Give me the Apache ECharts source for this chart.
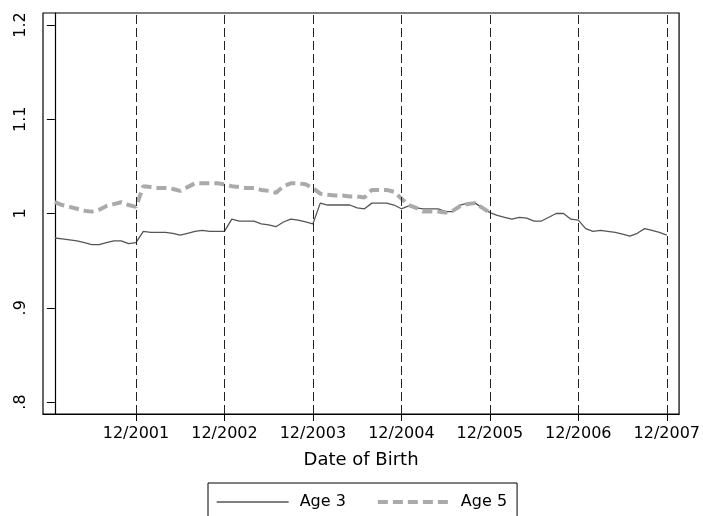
<!DOCTYPE html>
<html>
<head>
<meta charset="utf-8">
<script src="https://cdn.jsdelivr.net/npm/echarts@6/dist/echarts.min.js"></script>
<style>html,body{margin:0;padding:0;background:#fff}#c{width:703px;height:516px}</style>
</head>
<body>
<div id="c"></div>
<script>
// Month index 0 = 01/2001 ... 83 = 12/2007
const age3 = [
  0.974, 0.973, 0.972, 0.971, 0.969, 0.967, 0.967, 0.969, 0.971, 0.971, 0.968, 0.969,
  0.981, 0.980, 0.980, 0.980, 0.979, 0.977, 0.979, 0.981, 0.982, 0.981, 0.981, 0.981,
  0.994, 0.992, 0.992, 0.992, 0.989, 0.988, 0.986, 0.991, 0.994, 0.993, 0.991, 0.989,
  1.011, 1.009, 1.009, 1.009, 1.009, 1.006, 1.005, 1.011, 1.011, 1.011, 1.009, 1.005,
  1.008, 1.006, 1.005, 1.005, 1.005, 1.002, 1.002, 1.009, 1.011, 1.011, 1.006, 1.001,
  0.998, 0.996, 0.994, 0.996, 0.995, 0.992, 0.992, 0.996, 1.000, 1.000, 0.994, 0.993,
  0.984, 0.981, 0.982, 0.981, 0.980, 0.978, 0.976, 0.979, 0.984, 0.982, 0.980, 0.977
];
const age5 = [
  1.012, 1.009, 1.007, 1.005, 1.003, 1.002, 1.004, 1.008, 1.010, 1.012, 1.009, 1.007,
  1.029, 1.028, 1.027, 1.027, 1.026, 1.024, 1.028, 1.032, 1.032, 1.032, 1.032, 1.031,
  1.029, 1.028, 1.027, 1.027, 1.025, 1.024, 1.022, 1.029, 1.032, 1.032, 1.031, 1.027,
  1.021, 1.020, 1.019, 1.019, 1.018, 1.018, 1.017, 1.025, 1.025, 1.025, 1.023, 1.016,
  1.009, 1.006, 1.002, 1.002, 1.002, 1.001, 1.003, 1.008, 1.010, 1.011, 1.006, 1.001
];
const tickMonths = [11, 23, 35, 47, 59, 71, 83];
const tickLabels = ['12/2001', '12/2002', '12/2003', '12/2004', '12/2005', '12/2006', '12/2007'];
const yTicks = [0.8, 0.9, 1.0, 1.1, 1.2];
const yTickLabels = ['.8', '.9', '1', '1.1', '1.2'];
const seriesNames = ['Age 3', 'Age 5'];

const FONT = 'DejaVu Sans';
const style3 = {color: '#555', width: 1.3, type: 'solid'};
const style5 = {color: '#aaa', width: 4, type: [10, 5]};
const chart = echarts.init(document.getElementById('c'), null, {renderer: 'canvas'});
chart.setOption({
  animation: false,
  backgroundColor: '#fff',
  grid: {left: 43, right: 21, top: 13, bottom: 102, show: true, borderColor: '#000', borderWidth: 1.2, backgroundColor: 'transparent'},
  xAxis: {
    type: 'value', min: -1.61, max: 84.67,
    axisLine: {onZero: false, lineStyle: {color: '#000', width: 1.2}},
    splitLine: {show: false},
    axisTick: {customValues: tickMonths, length: 7, lineStyle: {color: '#000', width: 1}},
    axisLabel: {customValues: tickMonths, formatter: v => tickLabels[tickMonths.indexOf(v)],
      fontFamily: FONT, fontSize: 16, color: '#000', margin: 12},
    name: 'Date of Birth', nameLocation: 'middle', nameGap: 37,
    nameTextStyle: {fontFamily: FONT, fontSize: 18, color: '#000'}
  },
  yAxis: {
    type: 'value', min: 0.7873, max: 1.2127,
    axisLine: {show: true, lineStyle: {color: '#000', width: 1.2}},
    splitLine: {show: false},
    axisTick: {customValues: yTicks, length: 8, lineStyle: {color: '#000', width: 1}},
    axisLabel: {customValues: yTicks, rotate: 90, margin: 14,
      formatter: v => { const i = yTicks.findIndex(t => Math.abs(t - v) < 1e-6); return i >= 0 ? yTickLabels[i] : ''; },
      fontFamily: FONT, fontSize: 16, color: '#000'}
  },
  legend: {
    left: 208, top: 483, orient: 'horizontal',
    padding: [11, 10, 12, 8], borderColor: '#000', borderWidth: 1,
    itemWidth: 72, itemHeight: 14, itemGap: 30,
    itemStyle: {opacity: 0},
    textStyle: {fontFamily: FONT, fontSize: 16, color: '#000', padding: [0, 0, 0, 6]},
    data: [
      {name: seriesNames[0], lineStyle: style3, itemStyle: {opacity: 0}},
      {name: seriesNames[1], lineStyle: style5, itemStyle: {opacity: 0}}
    ]
  },
  series: [
    {
      name: seriesNames[0], type: 'line', symbol: 'none', silent: true,
      data: age3.map((v, i) => [i, v]),
      lineStyle: style3,
      itemStyle: {color: '#555'},
      markLine: {
        silent: true, symbol: 'none', label: {show: false},
        lineStyle: {color: '#222', type: [9, 4], width: 1},
        emphasis: {disabled: true},
        data: tickMonths.map(m => ({xAxis: m}))
      }
    },
    {
      name: seriesNames[1], type: 'line', symbol: 'none', silent: true,
      data: age5.map((v, i) => [i, v]),
      lineStyle: style5,
      itemStyle: {color: '#aaa'}
    }
  ]
});
</script>
</body>
</html>
